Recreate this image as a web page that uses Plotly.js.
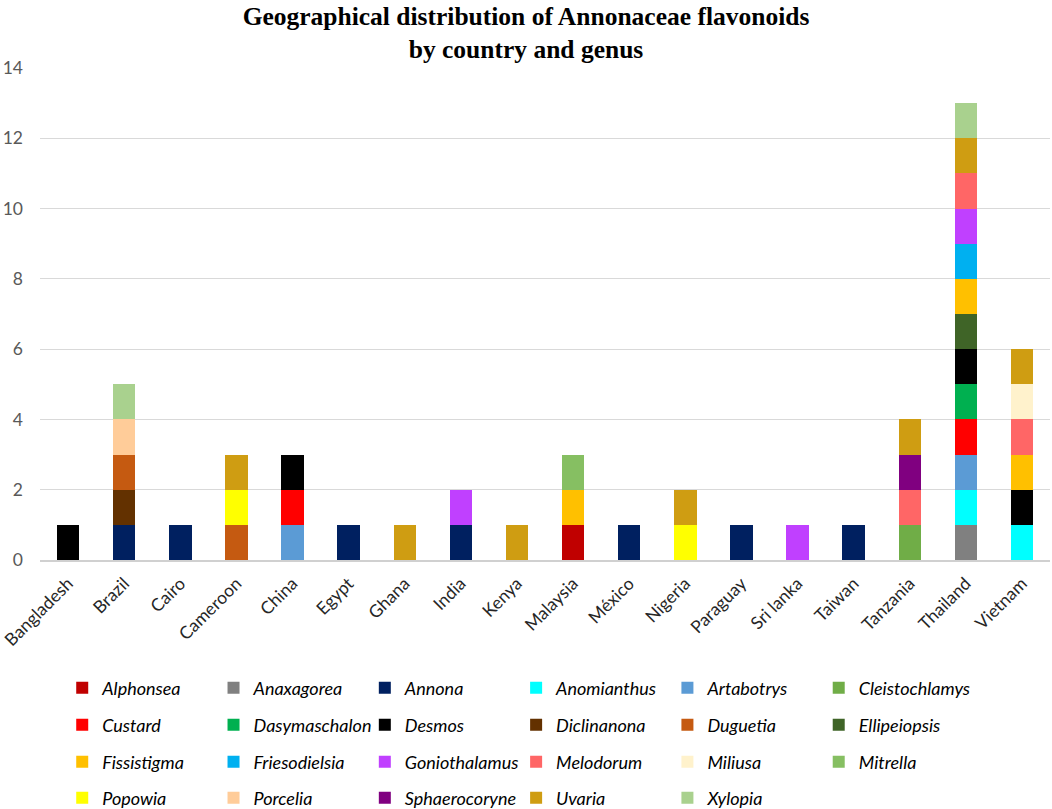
<!DOCTYPE html>
<html>
<head>
<meta charset="utf-8">
<script src="https://cdn.plot.ly/plotly-3.0.1.min.js"></script>
<style>
  html, body { margin: 0; padding: 0; background: #fff; }
  #chart { width: 1052px; height: 809px; }
</style>
</head>
<body>
<div id="chart"></div>
<script>
// countries on the x axis
const countries = ['Bangladesh', 'Brazil', 'Cairo', 'Cameroon', 'China', 'Egypt', 'Ghana', 'India', 'Kenya',
  'Malaysia', 'México', 'Nigeria', 'Paraguay', 'Sri lanka', 'Taiwan', 'Tanzania', 'Thailand', 'Vietnam'];

// genera, in legend / stacking order
const genera = ['Alphonsea', 'Anaxagorea', 'Annona', 'Anomianthus', 'Artabotrys', 'Cleistochlamys',
  'Custard', 'Dasymaschalon', 'Desmos', 'Diclinanona', 'Duguetia', 'Ellipeiopsis',
  'Fissistigma', 'Friesodielsia', 'Goniothalamus', 'Melodorum', 'Miliusa', 'Mitrella',
  'Popowia', 'Porcelia', 'Sphaerocoryne', 'Uvaria', 'Xylopia'];

const genusColors = ['#C00000', '#808080', '#002060', '#00FFFF', '#5B9BD5', '#70AD47',
  '#FF0000', '#00B050', '#000000', '#633100', '#C55A11', '#3F6427',
  '#FFC000', '#00B0F0', '#C040FF', '#FF6666', '#FFF2CC', '#86BF62',
  '#FFFF00', '#FFCC99', '#800080', '#CF9D12', '#A9D18E'];

// number of flavonoid reports per genus, one value per country (same order as countries)
//                    Ban Bra Cai Cam Chi Egy Gha Ind Ken Mal Méx Nig Par Sri Tai Tan Tha Vie
const alphonsea      = [0, 0, 0, 0, 0, 0, 0, 0, 0, 1, 0, 0, 0, 0, 0, 0, 0, 0];
const anaxagorea     = [0, 0, 0, 0, 0, 0, 0, 0, 0, 0, 0, 0, 0, 0, 0, 0, 1, 0];
const annona         = [0, 1, 1, 0, 0, 1, 0, 1, 0, 0, 1, 0, 1, 0, 1, 0, 0, 0];
const anomianthus    = [0, 0, 0, 0, 0, 0, 0, 0, 0, 0, 0, 0, 0, 0, 0, 0, 1, 1];
const artabotrys     = [0, 0, 0, 0, 1, 0, 0, 0, 0, 0, 0, 0, 0, 0, 0, 0, 1, 0];
const cleistochlamys = [0, 0, 0, 0, 0, 0, 0, 0, 0, 0, 0, 0, 0, 0, 0, 1, 0, 0];
const custard        = [0, 0, 0, 0, 1, 0, 0, 0, 0, 0, 0, 0, 0, 0, 0, 0, 1, 0];
const dasymaschalon  = [0, 0, 0, 0, 0, 0, 0, 0, 0, 0, 0, 0, 0, 0, 0, 0, 1, 0];
const desmos         = [1, 0, 0, 0, 1, 0, 0, 0, 0, 0, 0, 0, 0, 0, 0, 0, 1, 1];
const diclinanona    = [0, 1, 0, 0, 0, 0, 0, 0, 0, 0, 0, 0, 0, 0, 0, 0, 0, 0];
const duguetia       = [0, 1, 0, 1, 0, 0, 0, 0, 0, 0, 0, 0, 0, 0, 0, 0, 0, 0];
const ellipeiopsis   = [0, 0, 0, 0, 0, 0, 0, 0, 0, 0, 0, 0, 0, 0, 0, 0, 1, 0];
const fissistigma    = [0, 0, 0, 0, 0, 0, 0, 0, 0, 1, 0, 0, 0, 0, 0, 0, 1, 1];
const friesodielsia  = [0, 0, 0, 0, 0, 0, 0, 0, 0, 0, 0, 0, 0, 0, 0, 0, 1, 0];
const goniothalamus  = [0, 0, 0, 0, 0, 0, 0, 1, 0, 0, 0, 0, 0, 1, 0, 0, 1, 0];
const melodorum      = [0, 0, 0, 0, 0, 0, 0, 0, 0, 0, 0, 0, 0, 0, 0, 1, 1, 1];
const miliusa        = [0, 0, 0, 0, 0, 0, 0, 0, 0, 0, 0, 0, 0, 0, 0, 0, 0, 1];
const mitrella       = [0, 0, 0, 0, 0, 0, 0, 0, 0, 1, 0, 0, 0, 0, 0, 0, 0, 0];
const popowia        = [0, 0, 0, 1, 0, 0, 0, 0, 0, 0, 0, 1, 0, 0, 0, 0, 0, 0];
const porcelia       = [0, 1, 0, 0, 0, 0, 0, 0, 0, 0, 0, 0, 0, 0, 0, 0, 0, 0];
const sphaerocoryne  = [0, 0, 0, 0, 0, 0, 0, 0, 0, 0, 0, 0, 0, 0, 0, 1, 0, 0];
const uvaria         = [0, 0, 0, 1, 0, 0, 1, 0, 1, 0, 0, 1, 0, 0, 0, 1, 1, 1];
const xylopia        = [0, 1, 0, 0, 0, 0, 0, 0, 0, 0, 0, 0, 0, 0, 0, 0, 1, 0];

const genusValues = [alphonsea, anaxagorea, annona, anomianthus, artabotrys, cleistochlamys,
  custard, dasymaschalon, desmos, diclinanona, duguetia, ellipeiopsis,
  fissistigma, friesodielsia, goniothalamus, melodorum, miliusa, mitrella,
  popowia, porcelia, sphaerocoryne, uvaria, xylopia];

const yTicks = [0, 2, 4, 6, 8, 10, 12, 14];

const sansFont = 'Lato, "Open Sans", sans-serif';
const perRow = 6;

// one legend per row (container coords) so the rows can be spaced like the original
const rowY = [0.1496, 0.1038, 0.0581, 0.0136];

const traces = genera.map((g, i) => ({
  type: 'bar',
  name: g,
  x: countries,
  y: genusValues[i],
  marker: { color: genusColors[i], line: { width: 0 } },
  legend: Math.floor(i / perRow) === 0 ? 'legend' : 'legend' + (Math.floor(i / perRow) + 1),
  hoverinfo: 'skip'
}));

function legendRow(y) {
  return {
    orientation: 'h',
    x: 0.022, xanchor: 'left',
    y: y, yref: 'container', yanchor: 'middle',
    entrywidth: 106.3, entrywidthmode: 'pixels',
    font: { family: sansFont, size: 18, style: 'italic', color: '#000' },
    bgcolor: 'rgba(0,0,0,0)',
    traceorder: 'normal'
  };
}

const layout = {
  width: 1052,
  height: 809,
  paper_bgcolor: '#fff',
  plot_bgcolor: '#fff',
  barmode: 'stack',
  bargap: 0.6,
  margin: { l: 40, r: 2, t: 68, b: 249 },
  title: {
    text: '<b>Geographical distribution of Annonaceae flavonoids<br>by country and genus</b>',
    x: 0.5, xref: 'container', xanchor: 'center',
    y: 0.969, yref: 'container', yanchor: 'top',
    font: { family: '"Liberation Serif", "Times New Roman", serif', size: 25.5, color: '#000' }
  },
  xaxis: {
    type: 'category',
    tickangle: -45,
    tickfont: { family: sansFont, size: 17.5, color: '#262626' },
    showgrid: false,
    showline: true, linecolor: '#D0D0D0', linewidth: 1.5,
    ticks: '',
    ticklabelstandoff: 5,
    automargin: false,
    fixedrange: true
  },
  yaxis: {
    range: [0, 14],
    tickvals: yTicks,
    tickfont: { family: sansFont, size: 17.5, color: '#595959' },
    gridcolor: '#D9D9D9', gridwidth: 1,
    zeroline: false, showline: false,
    ticks: '',
    ticklabelstandoff: 16,
    automargin: false,
    fixedrange: true
  },
  legend: legendRow(rowY[0]),
  legend2: legendRow(rowY[1]),
  legend3: legendRow(rowY[2]),
  legend4: legendRow(rowY[3]),
  showlegend: true
};

Plotly.newPlot('chart', traces, layout, { displayModeBar: false, staticPlot: true });
</script>
</body>
</html>
